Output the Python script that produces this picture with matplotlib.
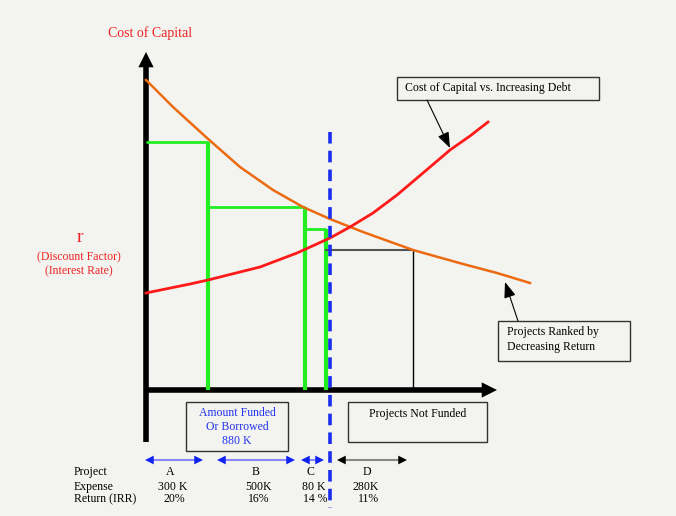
import matplotlib
matplotlib.use("Agg")
import matplotlib.pyplot as plt
from matplotlib.patches import Rectangle

# Schematic units: x = funding position from the origin, y = rate height above the x axis
PROJECTS = ["A", "B", "C", "D"]
EXPENSES = ["300 K", "500K", "80 K", "280K"]
RETURNS = ["20%", "16%", "14 %", "11%"]
EDGES = [0, 62, 159, 180, 267]          # cumulative funding edges of the project bars
HEIGHTS = [248, 183, 161, 140]          # return of each project (bar top)
CUTOFF = 184                            # amount funded / borrowed (880 K)

# Projects ranked by decreasing return (orange curve)
RETURN_X = [0, 27, 61, 94, 127, 157, 184, 217, 267, 317, 351, 384]
RETURN_Y = [310, 283, 252, 223, 200, 183, 171, 158, 140, 126, 117, 107]

# Cost of capital vs increasing debt (red curve)
DEBT_X = [0, 44, 62, 114, 151, 184, 204, 227, 251, 277, 304, 324, 342]
DEBT_Y = [97, 106, 110, 123, 137, 152, 163, 177, 195, 217, 240, 254, 268]

BG = "#f3f3ef"
SERIF = ["Liberation Serif", "DejaVu Serif"]
FS = 8.5

fig = plt.figure(figsize=(6.76, 5.16), dpi=100, facecolor=BG)
ax = fig.add_axes([0, 0, 1, 1])
ax.set_facecolor(BG)
ax.set_xlim(-146, 530)
ax.set_ylim(-126, 390)
ax.axis("off")

head = "-|>,head_length=1.1,head_width=0.55"

# axes with arrow heads
ax.plot([0, 0], [-52, 328], color="black", lw=4, solid_capstyle="butt")
ax.annotate("", xy=(0, 338), xytext=(0, 322),
            arrowprops=dict(arrowstyle=head, color="black", lw=0,
                            shrinkA=0, shrinkB=0, mutation_scale=10))
ax.plot([0, 340], [0, 0], color="black", lw=4, solid_capstyle="butt")
ax.annotate("", xy=(351, 0), xytext=(335, 0),
            arrowprops=dict(arrowstyle=head, color="black", lw=0,
                            shrinkA=0, shrinkB=0, mutation_scale=10))

# funded project bars (green) and the unfunded one (black)
for i in range(len(PROJECTS)):
    x0, x1, h = EDGES[i], EDGES[i + 1], HEIGHTS[i]
    if EDGES[i + 1] <= CUTOFF:
        ax.plot([x0, x1], [h, h], color="#22ee22", lw=2, solid_capstyle="butt")
        ax.plot([x1, x1], [h, 0], color="#22ee22", lw=3, solid_capstyle="butt")
    else:
        ax.plot([x0, x1], [h, h], color="#555555", lw=1.5)
        ax.plot([x1, x1], [h, 0], color="black", lw=1)

# curves
ax.plot(RETURN_X, RETURN_Y, color="#ec6a10", lw=1.8)
ax.plot(DEBT_X, DEBT_Y, color="#ff1a1a", lw=2)

# cutoff line
ax.plot([CUTOFF, CUTOFF], [258, -118], color="#1a2cf0", lw=2.6, dashes=(3.2, 2.0))

# labels on the left
ax.text(4, 357, "Cost of Capital", color="#ee2222", fontsize=10,
        family=SERIF, ha="center", va="center")
ax.text(-66, 153, "r", color="#ee2222", fontsize=14, family=SERIF, ha="center", va="center")
ax.text(-67, 133, "(Discount Factor)", color="#ee2222", fontsize=FS,
        family=SERIF, ha="center", va="center")
ax.text(-67, 119, "(Interest Rate)", color="#ee2222", fontsize=FS,
        family=SERIF, ha="center", va="center")

# boxes
ax.add_patch(Rectangle((40, -61), 102, 49, fill=False, edgecolor="#333333", lw=1))
for yy, s in zip([-23, -37, -51], ["Amount Funded", "Or Borrowed", "880 K"]):
    ax.text(91, yy, s, color="#2233ee", fontsize=FS, family=SERIF, ha="center", va="center")

ax.add_patch(Rectangle((202, -52), 139, 40, fill=False, edgecolor="#333333", lw=1))
ax.text(272, -24, "Projects Not Funded", color="black", fontsize=FS,
        family=SERIF, ha="center", va="center")

ax.add_patch(Rectangle((251, 290), 202, 23, fill=False, edgecolor="#333333", lw=1))
ax.text(259, 302, "Cost of Capital vs. Increasing Debt", color="black", fontsize=FS,
        family=SERIF, ha="left", va="center")

ax.add_patch(Rectangle((352, 29), 132, 40, fill=False, edgecolor="#333333", lw=1))
ax.text(361, 58, "Projects Ranked by", color="black", fontsize=FS,
        family=SERIF, ha="left", va="center")
ax.text(361, 43, "Decreasing Return", color="black", fontsize=FS,
        family=SERIF, ha="left", va="center")

# callout arrows
ax.annotate("", xy=(304, 242), xytext=(281, 290),
            arrowprops=dict(arrowstyle="-|>,head_length=0.8,head_width=0.3",
                            color="black", lw=0.8, shrinkA=0, shrinkB=0, mutation_scale=12))
ax.annotate("", xy=(359, 108), xytext=(372, 69),
            arrowprops=dict(arrowstyle="-|>,head_length=0.8,head_width=0.3",
                            color="black", lw=0.8, shrinkA=0, shrinkB=0, mutation_scale=12))

# span arrows under the x axis
spans = [(-1, 57), (71, 149), (155, 178), (191, 261)]
for i, (a, b) in enumerate(spans):
    funded = EDGES[i + 1] <= CUTOFF
    line_c = "#8888ff" if funded else "#888888"
    head_c = "#1122ee" if funded else "black"
    ax.plot([a + 4, b - 4], [-70, -70], color=line_c, lw=1.5)
    for tip, tail in [(a, a + 8), (b, b - 8)]:
        ax.annotate("", xy=(tip, -70), xytext=(tail, -70),
                    arrowprops=dict(arrowstyle="-|>,head_length=0.9,head_width=0.45",
                                    color=head_c, lw=0, shrinkA=0, shrinkB=0,
                                    mutation_scale=7))

# project table
ax.text(-72, -82, "Project", fontsize=FS, family=SERIF, ha="left", va="center")
ax.text(-72, -97, "Expense", fontsize=FS, family=SERIF, ha="left", va="center")
ax.text(-72, -109, "Return (IRR)", fontsize=FS, family=SERIF, ha="left", va="center")
name_x = [24, 110, 164, 221]
exp_x = [27, 113, 168, 220]
ret_x = [28, 113, 169, 223]
for i in range(len(PROJECTS)):
    ax.text(name_x[i], -82, PROJECTS[i], fontsize=FS, family=SERIF, ha="center", va="center")
    ax.text(exp_x[i], -97, EXPENSES[i], fontsize=FS, family=SERIF, ha="center", va="center")
    ax.text(ret_x[i], -109, RETURNS[i], fontsize=FS, family=SERIF, ha="center", va="center")

fig.savefig("out.png", dpi=100, facecolor=BG)
